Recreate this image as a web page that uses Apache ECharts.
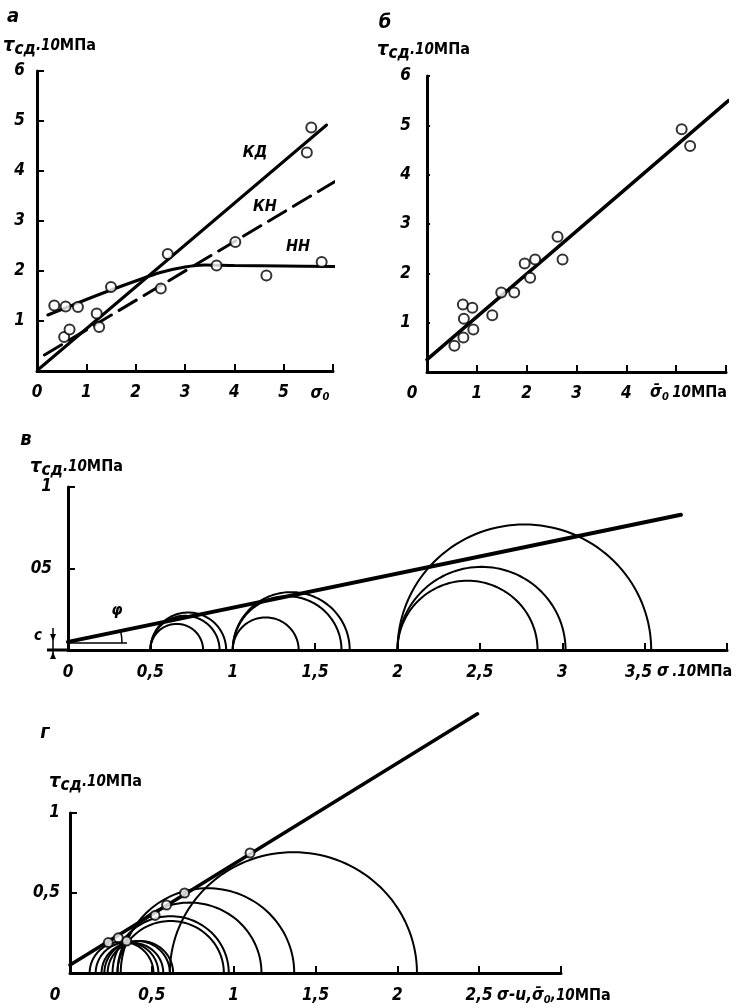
<!DOCTYPE html>
<html>
<head>
<meta charset="utf-8">
<script src="https://cdn.jsdelivr.net/npm/echarts@6/dist/echarts.min.js"></script>
<style>
  html, body { margin: 0; padding: 0; background: #fff; }
  #main { width: 736px; height: 1008px; }
</style>
</head>
<body>
<div id="main"></div>
<script>
// ---- panel а : tau vs sigma0, three lines
var kdLine = [[0.05, 0.05], [5.87, 4.92]];
var knLine = [[0.15, 0.32], [6.04, 3.79]];
var nnLine = [[0.22, 1.12], [1.0, 1.43], [1.5, 1.62], [2.0, 1.80], [2.5, 1.97], [3.0, 2.08],
              [3.4, 2.12], [4.0, 2.11], [5.0, 2.10], [6.04, 2.09]];
var pointsA = [[0.35, 1.31], [0.58, 1.29], [0.83, 1.28], [1.50, 1.68], [0.55, 0.68], [0.66, 0.83],
               [1.21, 1.15], [1.26, 0.88], [2.51, 1.65], [2.65, 2.34], [3.64, 2.11], [4.02, 2.58],
               [4.65, 1.91], [5.47, 4.37], [5.56, 4.87], [5.77, 2.18]];
var xLabA = ['0', '1', '2', '3', '4', '5', '{s|σ}{e|0}'];
var yLabA = ['', '1', '2', '3', '4', '5', '6'];

// ---- panel б
var lineB = [[0, 0.25], [6.05, 5.5]];
var pointsB = [[0.55, 0.53], [0.73, 0.70], [0.93, 0.86], [0.74, 1.08], [0.72, 1.37], [0.91, 1.30],
               [1.31, 1.15], [1.49, 1.61], [1.75, 1.61], [1.96, 2.20], [2.17, 2.28], [2.07, 1.91],
               [2.62, 2.74], [2.72, 2.28], [5.11, 4.92], [5.28, 4.58]];
var xLabB = ['{z|0}', '1', '2', '3', '4', '', ''];
var yLabB = ['', '1', '2', '3', '4', '5', '6'];

// ---- panel в : Mohr circles [sigma3, sigma1]
var envC = [[0, 0.05], [3.72, 0.83]];
var circlesC = [[0.5, 0.82], [0.5, 0.92], [0.5, 0.96], [1.0, 1.40], [1.0, 1.66], [1.0, 1.71],
                [2.0, 2.85], [2.0, 3.02], [2.0, 3.54]];
var xLabC = ['0', '0,5', '1', '1,5', '2', '2,5', '3', '{w|3,5}', ''];
var yLabC = ['', '05', '1'];

// ---- panel г
var envD = [[0, 0.05], [2.49, 1.62]];
var circlesD = [[0.12, 0.51], [0.157, 0.54], [0.193, 0.57], [0.21, 0.61], [0.23, 0.63],
                [0.29, 0.94], [0.26, 0.97], [0.29, 1.17], [0.31, 1.37], [0.61, 2.12]];
var markersD = [[1.10, 0.75], [0.70, 0.50], [0.59, 0.425], [0.52, 0.36], [0.346, 0.20],
                [0.295, 0.22], [0.234, 0.19]];
var xLabD = ['{z|0}', '0,5', '1', '1,5', '2', '2,5', ''];
var yLabD = ['', '0,5', '1'];

var FONT = "'DejaVu Sans Condensed', 'Liberation Sans Narrow', 'DejaVu Sans', sans-serif";

function lab(size) {
  return { fontFamily: FONT, fontStyle: 'italic', fontWeight: 'bold', fontSize: size, fill: '#000', color: '#000' };
}
function up(size) {
  return { fontFamily: FONT, fontWeight: 'bold', fontSize: size, fill: '#000', color: '#000' };
}

function xAx(i, max, itv, labels, margin) {
  return {
    type: 'value', gridIndex: i, min: 0, max: max, interval: itv,
    axisLine: { lineStyle: { color: '#000', width: 3 } },
    axisTick: { inside: true, length: 7, lineStyle: { color: '#000', width: 2 } },
    splitLine: { show: false },
    axisLabel: {
      margin: margin, color: '#000', fontFamily: FONT, fontStyle: 'italic', fontWeight: 'bold', fontSize: 17,
      formatter: function (v, k) { return labels[k] || ''; },
      rich: {
        z: { fontFamily: FONT, fontStyle: 'italic', fontWeight: 'bold', fontSize: 17, color: '#000', padding: [0, 30, 0, 0] },
        w: { fontFamily: FONT, fontStyle: 'italic', fontWeight: 'bold', fontSize: 17, color: '#000', padding: [0, 12, 0, 0] },
        s: { fontFamily: FONT, fontStyle: 'italic', fontWeight: 'bold', fontSize: 17, color: '#000' },
        e: { fontFamily: FONT, fontStyle: 'italic', fontWeight: 'bold', fontSize: 11, color: '#000', padding: [8, 26, 0, 0] }
      }
    }
  };
}

function yAx(i, max, itv, labels, margin, tickLen) {
  return {
    type: 'value', gridIndex: i, min: 0, max: max, interval: itv,
    axisLine: { lineStyle: { color: '#000', width: 3 } },
    axisTick: { inside: true, length: tickLen, lineStyle: { color: '#000', width: 2 } },
    splitLine: { show: false },
    axisLabel: {
      margin: margin, color: '#000', fontFamily: FONT, fontStyle: 'italic', fontWeight: 'bold', fontSize: 17,
      formatter: function (v, k) { return labels[k] || ''; }
    }
  };
}

function lineSer(i, data, w, dashed, smooth) {
  return {
    type: 'line', xAxisIndex: i, yAxisIndex: i, data: data, showSymbol: false, symbol: 'none',
    smooth: smooth || false, clip: false, silent: true,
    lineStyle: { color: '#000', width: w, type: dashed ? [20, 9] : 'solid', cap: 'round' }
  };
}

function dotSer(i, data, size) {
  return {
    type: 'scatter', xAxisIndex: i, yAxisIndex: i, data: data, symbol: 'circle', symbolSize: size,
    clip: false, silent: true, z: 5,
    itemStyle: { color: '#fff', borderColor: '#000', borderWidth: 2 }
  };
}

// upper half of a Mohr circle from sigma3 to sigma1, drawn through the axes' scales
function arcSer(i, data, w) {
  return {
    type: 'custom', xAxisIndex: i, yAxisIndex: i, data: data, silent: true, clip: false,
    renderItem: function (params, api) {
      var a = api.value(0), b = api.value(1);
      var c = (a + b) / 2, r = (b - a) / 2;
      var pts = [];
      for (var k = 0; k <= 72; k++) {
        var t = Math.PI * k / 72;
        pts.push(api.coord([c + r * Math.cos(t), r * Math.sin(t)]));
      }
      return { type: 'polyline', shape: { points: pts }, style: { fill: null, stroke: '#000', lineWidth: w } };
    }
  };
}

function txt(x, y, s, size, align) {
  var st = lab(size);
  st.text = s; st.x = x; st.y = y;
  st.textAlign = align || 'left'; st.textVerticalAlign = 'middle';
  return { type: 'text', z: 10, style: st };
}

function tauName(x, y) {
  var sub = lab(17); sub.padding = [8, 0, 0, 0];
  return {
    type: 'text', z: 10,
    style: {
      x: x, y: y, textVerticalAlign: 'middle',
      text: '{t|τ}{s|сд}{n|.10}{m|МПа}',
      rich: { t: lab(20), s: sub, n: lab(15), m: up(16) }
    }
  };
}

var chart = echarts.init(document.getElementById('main'), null, { renderer: 'canvas' });

var subStyle = lab(11); subStyle.padding = [8, 0, 0, 0];

var option = {
  backgroundColor: '#fff',
  animation: false,
  grid: [
    { left: 37, top: 71, width: 296, height: 300, outerBoundsMode: 'none' },
    { left: 427, top: 76, width: 299, height: 296, outerBoundsMode: 'none' },
    { left: 68, top: 487, width: 659, height: 163, outerBoundsMode: 'none' },
    { left: 70, top: 813, width: 491, height: 160, outerBoundsMode: 'none' }
  ],
  xAxis: [
    xAx(0, 6, 1, xLabA, 13),
    xAx(1, 6, 1, xLabB, 13),
    xAx(2, 4, 0.5, xLabC, 14),
    xAx(3, 3, 0.5, xLabD, 14)
  ],
  yAxis: [
    yAx(0, 6, 1, yLabA, 12, 7),
    yAx(1, 6, 1, yLabB, 16, 3),
    yAx(2, 1, 0.5, yLabC, 16, 7),
    yAx(3, 1, 0.5, yLabD, 10, 7)
  ],
  series: [
    lineSer(0, kdLine, 3),
    lineSer(0, knLine, 3, true),
    lineSer(0, nnLine, 3, false, 0.35),
    dotSer(0, pointsA, 10),

    lineSer(1, lineB, 3.5),
    dotSer(1, pointsB, 10),

    arcSer(2, circlesC, 2),
    lineSer(2, envC, 4),

    arcSer(3, circlesD, 2),
    lineSer(3, envD, 3.5),
    dotSer(3, markersD, 9)
  ],
  graphic: [
    txt(13, 17, 'а', 20, 'center'),
    txt(385, 23, 'б', 20, 'center'),
    txt(26, 440, 'в', 20, 'center'),
    txt(45, 733, 'г', 20, 'center'),

    tauName(3, 46),
    tauName(377, 50),
    tauName(30, 467),
    tauName(49, 782),

    txt(255, 153, 'КД', 16, 'center'),
    txt(265, 207, 'КН', 16, 'center'),
    txt(298, 247, 'НН', 16, 'center'),

    {
      type: 'text', z: 10,
      style: {
        x: 650, y: 393, textVerticalAlign: 'middle', text: '{s|σ\u0304}{b|0} {n|10}{m|МПа}',
        rich: { s: lab(17), b: subStyle, n: lab(15), m: up(16) }
      }
    },
    {
      type: 'text', z: 10,
      style: {
        x: 657, y: 672, textVerticalAlign: 'middle', text: '{s|σ} {n|.10}{m|МПа}',
        rich: { s: lab(17), n: lab(15), m: up(16) }
      }
    },
    {
      type: 'text', z: 10,
      style: {
        x: 497, y: 996, textVerticalAlign: 'middle', text: '{s|σ-u,σ\u0304}{b|0}{n|,10}{m|МПа}',
        rich: { s: lab(17), b: subStyle, n: lab(15), m: up(16) }
      }
    },

    // panel в: angle phi and intercept c
    { type: 'line', z: 10, shape: { x1: 47, y1: 650, x2: 68, y2: 650 }, style: { stroke: '#000', lineWidth: 3 } },
    { type: 'line', z: 10, shape: { x1: 70, y1: 643, x2: 127, y2: 643 }, style: { stroke: '#000', lineWidth: 1.5 } },
    { type: 'arc', z: 10, shape: { cx: 70, cy: 643, r: 52, startAngle: -0.22, endAngle: 0 }, style: { stroke: '#000', lineWidth: 1.5, fill: null } },
    txt(117, 611, 'φ', 16, 'center'),
    txt(38, 636, 'c', 15, 'center'),
    { type: 'line', z: 10, shape: { x1: 53, y1: 628, x2: 53, y2: 659 }, style: { stroke: '#000', lineWidth: 1.5 } },
    { type: 'polygon', z: 10, shape: { points: [[53, 641], [50, 634], [56, 634]] }, style: { fill: '#000' } },
    { type: 'polygon', z: 10, shape: { points: [[53, 652], [50, 659], [56, 659]] }, style: { fill: '#000' } }
  ]
};

chart.setOption(option);
</script>
</body>
</html>
